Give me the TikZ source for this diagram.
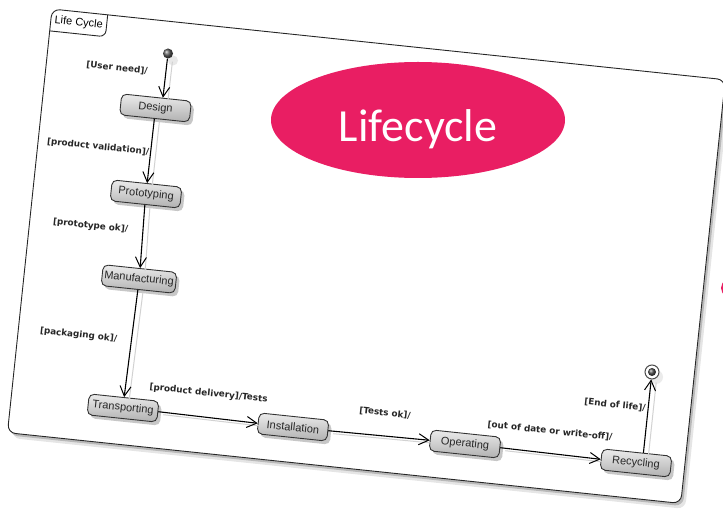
\documentclass[tikz,border=0pt]{standalone}
\usepackage{fontspec}
\setmainfont{Liberation Sans}
\newfontfamily\labelfont{DejaVu Sans}
\newfontfamily\bannerfont{Carlito}
\usetikzlibrary{arrows.meta,shadows,shapes.geometric}
\definecolor{bannerpink}{RGB}{233,30,99}

\tikzset{
  stbox/.style={draw=black!80, line width=0.9pt, rounded corners=5pt,
    minimum width=70pt, minimum height=21pt, inner sep=2pt,
    top color=gray!15, bottom color=gray!62, rotate=-6,
    font=\fontsize{11}{12}\selectfont, text=black!85,
    drop shadow={shadow xshift=3pt, shadow yshift=-3.5pt, fill=gray!55, opacity=0.8}},
  guard/.style={font=\labelfont\bfseries\fontsize{8.8}{10}\selectfont,
    rotate=-6, inner sep=0pt, text=black!85},
  flow/.style={draw=black, line width=1.1pt,
    -{Straight Barb[length=10pt,width=11pt,line width=1pt]},
    preaction={draw=gray!35, line width=1pt, arrows=-,
      transform canvas={xshift=5pt,yshift=-3pt}}},
}

\begin{document}
\begin{tikzpicture}[x=1pt,y=-1pt]
\useasboundingbox (0,0) rectangle (723,510);
\clip (0,0) rectangle (723,510);

% tilted diagram frame with its name tab
\begin{scope}[shift={(52,9)}, rotate=-6]
  \fill[gray!20, rounded corners=8pt] (5,5) rectangle (682,431);
  \fill[gray!55, rounded corners=8pt] (2.5,2.5) rectangle (679.5,428.5);
  \filldraw[fill=white, draw=black!85, line width=0.9pt, rounded corners=8pt]
    (0,0) rectangle (677,426);
  \draw[black!85, line width=0.9pt, rounded corners=6pt] (0,22) -- (56,22) -- (56,0);
  \node[rotate=-6, font=\fontsize{11}{12}\selectfont] (frametitle) at (28,11) {Life Cycle};
\end{scope}

% states
\node[stbox] (design) at (155.5,108) {Design};
\node[stbox] (proto) at (146,194) {Prototyping};
\node[stbox, minimum width=74pt] (manuf) at (139,279) {Manufacturing};
\node[stbox] (transp) at (123,408) {Transporting};
\node[stbox] (install) at (293,427) {Installation};
\node[stbox] (operate) at (465,444) {Operating};
\node[stbox] (recycle) at (636,463) {Recycling};

% initial and final pseudostates
\node[circle, minimum size=10pt, inner sep=0pt, ball color=gray!70!black,
  drop shadow={shadow xshift=5pt, shadow yshift=-7pt, fill=gray!35}] (start) at (168,53.5) {};
\node[circle, draw=black!70, line width=1pt, fill=white, minimum size=14pt, inner sep=0pt,
  drop shadow={shadow xshift=4pt, shadow yshift=-5pt, fill=gray!30}] (finish) at (652,372) {};
\node[circle, minimum size=8pt, inner sep=0pt, ball color=gray!60!black] (finishdot) at (finish) {};

% transitions
\draw[flow] (start) -- (design.60);
\draw[flow] (design.south) -- (proto.north);
\draw[flow] (proto.south) -- (manuf.north);
\draw[flow] (manuf.south) -- (transp.north);
\draw[flow] (transp.east) -- (install.west);
\draw[flow] (install.east) -- (operate.west);
\draw[flow] (operate.east) -- (recycle.west);
\draw[flow] (recycle.60) -- (finish);

% guards
\node[guard] (g1) at (117,68) {[User need]/};
\node[guard] (g2) at (98,147) {[product validation]/};
\node[guard] (g3) at (90.5,226) {[prototype ok]/};
\node[guard] (g4) at (78.5,335) {[packaging ok]/};
\node[guard] (g5) at (208.5,393.5) {[product delivery]/Tests};
\node[guard] (g6) at (385,413) {[Tests ok]/};
\node[guard] (g7) at (550,431) {[out of date or write-off]/};
\node[guard] (g8) at (615,405) {[End of life]/};

% banner
\node[ellipse, fill=bannerpink, minimum width=294pt, minimum height=116pt, inner sep=0pt]
  (banner) at (418,120) {};
\node[anchor=base, text=white, font=\bannerfont\fontsize{46}{50}\selectfont]
  (bannertext) at (418,142) {Lifecycle};
\node[ellipse, fill=bannerpink, minimum width=120pt, minimum height=44pt, inner sep=0pt]
  (sidebanner) at (781,288) {};
\end{tikzpicture}
\end{document}
